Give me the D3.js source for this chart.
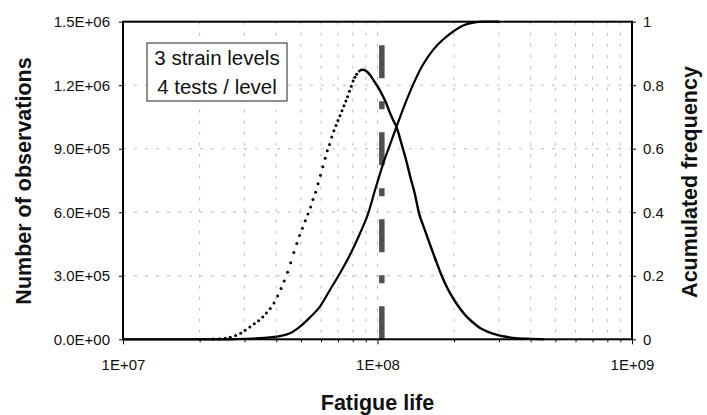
<!DOCTYPE html>
<html><head><meta charset="utf-8">
<script src="https://cdn.jsdelivr.net/npm/d3@7"></script>
<style>
body{margin:0;background:#fff;}
svg{display:block;font-family:"Liberation Sans",Arial,sans-serif;}
</style></head><body>
<svg id="chart" width="707" height="415"></svg>
<script>
// ---- data ----
const pdfLife = [
  22.6e6, 23.9e6, 25.2e6, 26.4e6, 27.7e6, 29.0e6, 30.2e6, 31.5e6, 32.8e6, 34.1e6,
  35.4e6, 36.6e6, 37.9e6, 39.2e6, 40.5e6, 41.8e6, 43.0e6, 44.3e6, 45.6e6, 46.9e6,
  48.2e6, 49.4e6, 50.7e6, 52.0e6, 53.3e6, 54.6e6, 55.8e6, 57.1e6, 58.4e6, 59.7e6,
  61.0e6, 62.3e6, 63.5e6, 64.8e6, 66.1e6, 67.4e6, 68.7e6, 69.9e6, 71.2e6, 72.5e6,
  73.8e6, 75.1e6, 76.3e6, 77.6e6, 78.9e6, 80.2e6, 81.5e6, 82.8e6, 84.1e6, 85.4e6,
  86.7e6, 88.7e6, 90.7e6, 93.5e6, 96.3e6, 99.3e6, 102.3e6, 105e6, 108e6, 111e6,
  114.7e6, 119e6, 124.5e6, 130e6, 135e6, 140e6, 146e6, 152e6, 158.5e6, 168e6,
  177.8e6, 188e6, 199.5e6, 212e6, 224e6, 238e6, 251e6, 266e6, 282e6, 300e6,
  316e6, 350e6, 400e6, 450e6
];
const pdfCount = [
  1.5e3, 3e3, 5e3, 1.0e4, 1.8e4, 2.9e4, 4.3e4, 5.8e4, 7.3e4, 8.8e4,
  1.05e5, 1.24e5, 1.45e5, 1.72e5, 2.05e5, 2.40e5, 2.75e5, 3.17e5, 3.62e5, 4.10e5,
  4.53e5, 4.90e5, 5.25e5, 5.60e5, 5.92e5, 6.25e5, 6.60e5, 6.95e5, 7.35e5, 7.75e5,
  8.15e5, 8.55e5, 8.90e5, 9.20e5, 9.55e5, 9.85e5, 1.010e6, 1.033e6, 1.056e6, 1.080e6,
  1.103e6, 1.125e6, 1.146e6, 1.172e6, 1.195e6, 1.220e6, 1.238e6, 1.252e6, 1.263e6, 1.270e6,
  1.273e6, 1.272e6, 1.265e6, 1.248e6, 1.225e6, 1.200e6, 1.175e6, 1.148e6, 1.117e6, 1.080e6,
  1.040e6, 1.000e6, 9.20e5, 8.40e5, 7.60e5, 6.90e5, 5.90e5, 5.30e5, 4.68e5, 3.85e5,
  3.07e5, 2.42e5, 1.88e5, 1.42e5, 1.07e5, 7.8e4, 5.6e4, 4.0e4, 2.8e4, 1.85e4,
  1.3e4, 5e3, 2e3, 5e2
];
const pdfSolidFrom = 84.1e6;   // beyond this the markers merge into a solid trace

const cdfLife = [1e7, 2.63e7, 3.24e7, 3.78e7, 4.14e7, 4.53e7, 4.96e7, 5.43e7, 5.94e7, 6.51e7,
  7.12e7, 7.80e7, 8.54e7, 9.20e7, 9.78e7, 1.07e8, 1.12e8, 1.19e8, 1.28e8, 1.38e8,
  1.51e8, 1.66e8, 1.81e8, 1.99e8, 2.17e8, 2.38e8, 2.60e8, 3.0e8];
const cdfFreq = [0, 0, 0.0025, 0.006, 0.010, 0.019, 0.040, 0.069, 0.103, 0.156,
  0.208, 0.266, 0.334, 0.397, 0.470, 0.570, 0.613, 0.671, 0.739, 0.802,
  0.865, 0.913, 0.944, 0.970, 0.988, 0.997, 1.0, 1.0];

const meanLife = 1.04e8;
const meanLineTop = 1.39e6;

const xTicks = [1e7, 1e8, 1e9];
const xTickLabels = ["1E+07", "1E+08", "1E+09"];
const xMinor = [2e7,3e7,4e7,5e7,6e7,7e7,8e7,9e7,2e8,3e8,4e8,5e8,6e8,7e8,8e8,9e8];
const leftTicks = [0, 3e5, 6e5, 9e5, 1.2e6, 1.5e6];
const leftTickLabels = ["0.0E+00", "3.0E+05", "6.0E+05", "9.0E+05", "1.2E+06", "1.5E+06"];
const rightTicks = [0, 0.2, 0.4, 0.6, 0.8, 1];
const rightTickLabels = ["0", "0.2", "0.4", "0.6", "0.8", "1"];
const legendLines = ["3 strain levels", "4 tests / level"];
const xTitle = "Fatigue life";
const yLeftTitle = "Number of observations";
const yRightTitle = "Acumulated frequency";

// ---- layout ----
const M = {left: 123, right: 632, top: 21.7, bottom: 339.3};
const svg = d3.select("#chart");
svg.append("rect").attr("width", 707).attr("height", 415).attr("fill", "#fff");

const x = d3.scaleLog().domain([1e7, 1e9]).range([M.left, M.right]);
const yL = d3.scaleLinear().domain([0, 1.5e6]).range([M.bottom, M.top]);
const yR = d3.scaleLinear().domain([0, 1]).range([M.bottom, M.top]);

// grid
const grid = svg.append("g").attr("stroke", "#b4b4b4").attr("stroke-width", 0.9)
  .attr("stroke-dasharray", "3,8").attr("fill", "none");
grid.selectAll("line.h").data(leftTicks.slice(1, -1)).join("line").attr("class", "h")
  .attr("x1", M.left).attr("x2", M.right).attr("y1", d => yL(d)).attr("y2", d => yL(d));
grid.selectAll("line.v").data(xMinor.concat([1e8])).join("line").attr("class", "v")
  .attr("y1", M.top).attr("y2", M.bottom).attr("x1", d => x(d)).attr("x2", d => x(d));

// mean life dash-dot line
svg.append("line")
  .attr("x1", x(meanLife)).attr("x2", x(meanLife))
  .attr("y1", yL(0)).attr("y2", yL(meanLineTop))
  .attr("stroke", "#505050").attr("stroke-width", 5.5)
  .attr("stroke-dasharray", "33,23,8,23");

// CDF line
const cdfPts = cdfLife.map((d, i) => [d, cdfFreq[i]]);
svg.append("path").datum(cdfPts)
  .attr("fill", "none").attr("stroke", "#000").attr("stroke-width", 2.2)
  .attr("d", d3.line().x(d => x(d[0])).y(d => yL(0) + (yR(d[1]) - yR(0))).curve(d3.curveMonotoneX));

// PDF markers + merged trace
const pdfPts = pdfLife.map((d, i) => [d, pdfCount[i]]);
svg.append("path").datum(pdfPts.filter(d => d[0] >= pdfSolidFrom))
  .attr("fill", "none").attr("stroke", "#000").attr("stroke-width", 2.4)
  .attr("d", d3.line().x(d => x(d[0])).y(d => yL(d[1])).curve(d3.curveMonotoneX));
svg.append("g").selectAll("circle").data(pdfPts.filter(d => d[0] < pdfSolidFrom)).join("circle")
  .attr("cx", d => x(d[0])).attr("cy", d => yL(d[1])).attr("r", 1.5).attr("fill", "#000");

// plot border
svg.append("rect").attr("x", M.left).attr("y", M.top)
  .attr("width", M.right - M.left).attr("height", M.bottom - M.top)
  .attr("fill", "none").attr("stroke", "#000").attr("stroke-width", 2);

// axes
function styleAxis(g) {
  g.select(".domain").remove();
  g.attr("font-family", null).attr("font-size", null);
  g.selectAll("text").attr("font-size", 15).attr("fill", "#111");
  g.selectAll("line").attr("stroke", "#000").attr("stroke-width", 1);
}
svg.append("g").attr("transform", `translate(${M.left},0)`)
  .call(d3.axisLeft(yL).tickValues(leftTicks).tickFormat((d, i) => leftTickLabels[i]).tickSize(4).tickPadding(9))
  .call(styleAxis);
svg.append("g").attr("transform", `translate(${M.right},0)`)
  .call(d3.axisRight(yR).tickValues(rightTicks).tickFormat((d, i) => rightTickLabels[i]).tickSize(4).tickPadding(7))
  .call(styleAxis);
svg.append("g").attr("transform", `translate(0,${M.bottom})`)
  .call(d3.axisBottom(x).tickValues(xTicks).tickFormat((d, i) => xTickLabels[i]).tickSize(5).tickPadding(15))
  .call(styleAxis);
svg.append("g").attr("transform", `translate(0,${M.bottom})`)
  .call(d3.axisBottom(x).tickValues(xMinor).tickFormat("").tickSize(3))
  .call(styleAxis);

// titles
svg.append("text").attr("transform", `translate(31,181) rotate(-90)`)
  .attr("text-anchor", "middle").attr("font-size", 21.5).attr("font-weight", "bold")
  .attr("fill", "#111").text(yLeftTitle);
svg.append("text").attr("transform", `translate(697,182) rotate(-90)`)
  .attr("text-anchor", "middle").attr("font-size", 21.5).attr("font-weight", "bold")
  .attr("fill", "#111").text(yRightTitle);
svg.append("text").attr("x", 377.5).attr("y", 410)
  .attr("text-anchor", "middle").attr("font-size", 21.5).attr("font-weight", "bold")
  .attr("fill", "#111").text(xTitle);

// legend box
const lg = svg.append("g");
lg.append("rect").attr("x", 147).attr("y", 43).attr("width", 140).attr("height", 58)
  .attr("fill", "#fff").attr("stroke", "#222").attr("stroke-width", 1);
lg.selectAll("text").data(legendLines).join("text")
  .attr("x", 217).attr("y", (d, i) => 65 + i * 29)
  .attr("text-anchor", "middle").attr("font-size", 20.5).attr("fill", "#111")
  .text(d => d);
</script>
</body></html>
